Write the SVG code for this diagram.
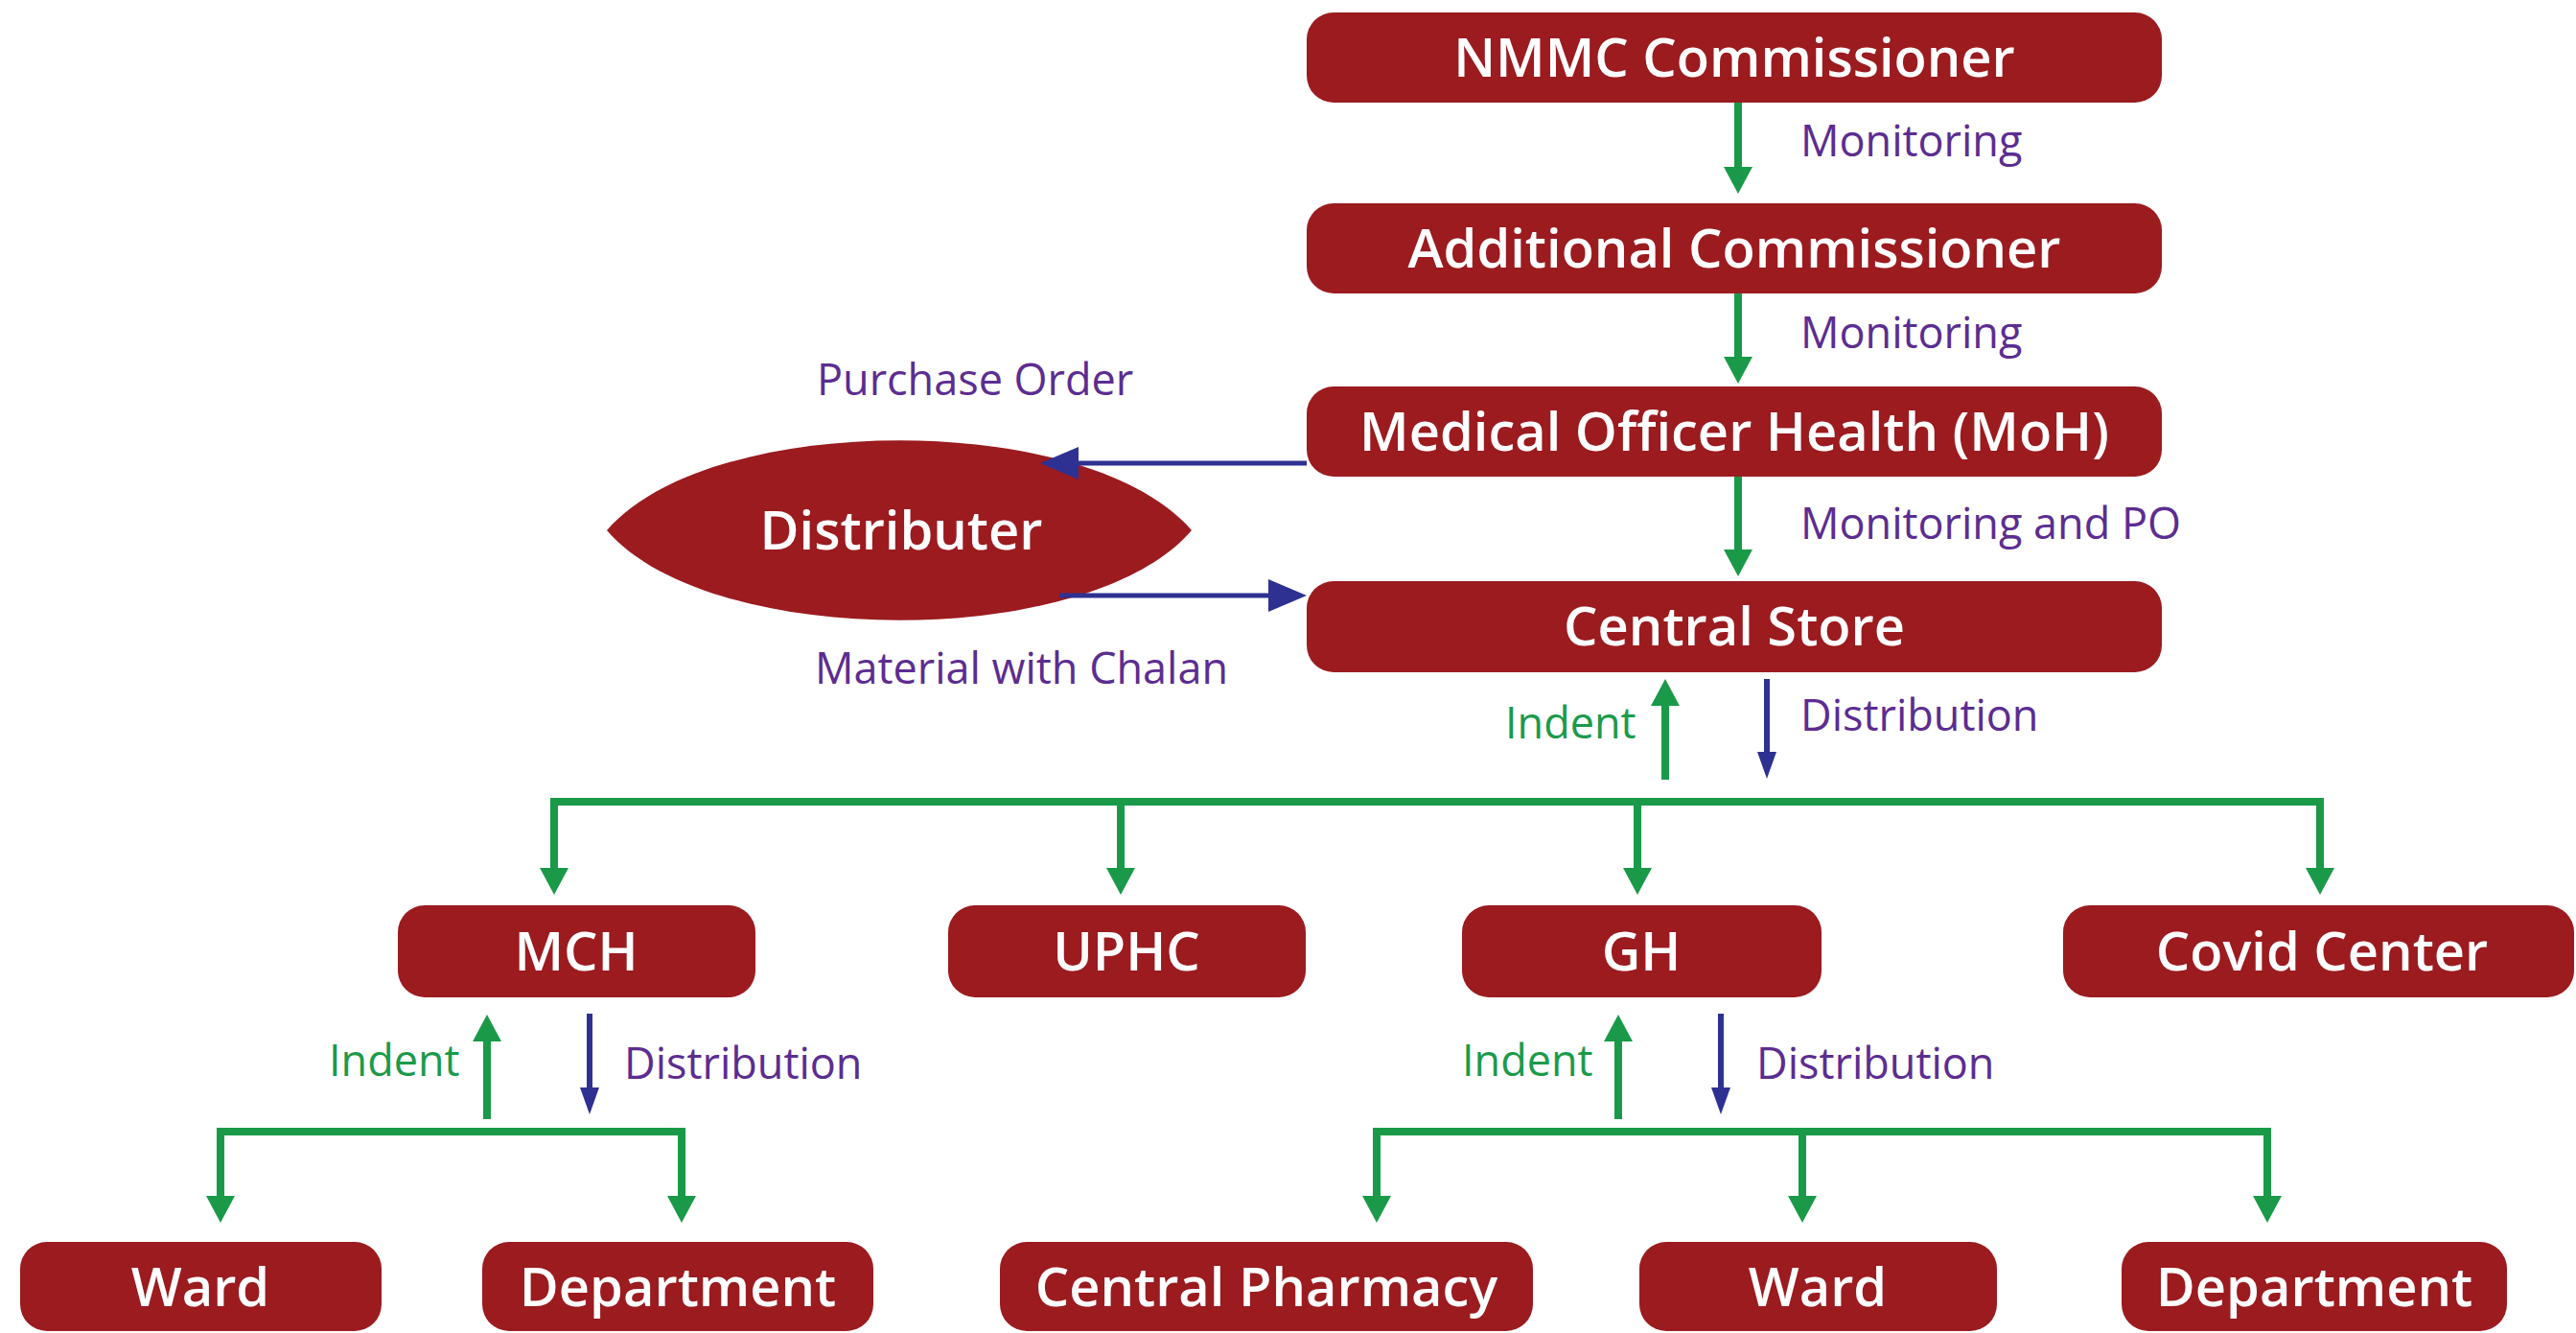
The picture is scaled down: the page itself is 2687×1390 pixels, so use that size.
<svg xmlns="http://www.w3.org/2000/svg" width="2687" height="1390" viewBox="0 0 2687 1390">
<defs>
<style>
.box{fill:#9b1b1f}
.nt{font-family:"Open Sans","Noto Sans","Liberation Sans",sans-serif;font-weight:600;font-size:56px;fill:#ffffff;text-anchor:middle}
.lp{font-family:"Open Sans","Noto Sans","Liberation Sans",sans-serif;font-size:45px;fill:#5c2d91}
.lg{font-family:"Open Sans","Noto Sans","Liberation Sans",sans-serif;font-size:45px;fill:#1b9a4b}
.g{fill:none;stroke:#1a9a48;stroke-width:8;marker-end:url(#ag)}
.gb{fill:none;stroke:#1a9a48;stroke-width:8;marker-start:url(#ag);marker-end:url(#ag)}
.b{fill:none;stroke:#2e3192;stroke-width:6;marker-end:url(#ab)}
.bh{fill:none;stroke:#2e3192;stroke-width:5;marker-end:url(#abh)}
</style>
<marker id="ag" markerUnits="userSpaceOnUse" markerWidth="28" markerHeight="30" refX="0" refY="15" orient="auto-start-reverse" overflow="visible"><path d="M0,0 L28,15 L0,30 Z" fill="#1a9a48"/></marker>
<marker id="ab" markerUnits="userSpaceOnUse" markerWidth="28" markerHeight="20" refX="0" refY="10" orient="auto" overflow="visible"><path d="M0,0 L28,10 L0,20 Z" fill="#2e3192"/></marker>
<marker id="abh" markerUnits="userSpaceOnUse" markerWidth="40" markerHeight="34" refX="0" refY="17" orient="auto" overflow="visible"><path d="M0,0 L40,17 L0,34 Z" fill="#2e3192"/></marker>
</defs>
<rect width="2687" height="1390" fill="#ffffff"/>

<g id="nmmc"><rect class="box" x="1363" y="13" width="892" height="94" rx="28"/><text class="nt" x="1809" y="80">NMMC Commissioner</text></g>
<g id="additional"><rect class="box" x="1363" y="212" width="892" height="94" rx="28"/><text class="nt" x="1809" y="279">Additional Commissioner</text></g>
<g id="moh"><rect class="box" x="1363" y="403" width="892" height="94" rx="28"/><text class="nt" x="1809" y="470">Medical Officer Health (MoH)</text></g>
<g id="central-store"><rect class="box" x="1363" y="606" width="892" height="95" rx="28"/><text class="nt" x="1809" y="673">Central Store</text></g>
<g id="distributer"><path class="box" d="M633,553 C740,428 1136,428 1243,553 C1136,678 740,678 633,553 Z"/><text class="nt" x="940" y="573">Distributer</text></g>
<g id="mch"><rect class="box" x="415" y="944" width="373" height="96" rx="28"/><text class="nt" x="601" y="1012">MCH</text></g>
<g id="uphc"><rect class="box" x="989" y="944" width="373" height="96" rx="28"/><text class="nt" x="1175" y="1012">UPHC</text></g>
<g id="gh"><rect class="box" x="1525" y="944" width="375" height="96" rx="28"/><text class="nt" x="1712" y="1012">GH</text></g>
<g id="covid"><rect class="box" x="2152" y="944" width="533" height="96" rx="28"/><text class="nt" x="2422" y="1012">Covid Center</text></g>
<g id="ward1"><rect class="box" x="21" y="1295" width="377" height="93" rx="28"/><text class="nt" x="209" y="1362">Ward</text></g>
<g id="dept1"><rect class="box" x="503" y="1295" width="408" height="93" rx="28"/><text class="nt" x="707" y="1362">Department</text></g>
<g id="pharmacy"><rect class="box" x="1043" y="1295" width="556" height="93" rx="28"/><text class="nt" x="1321" y="1362">Central Pharmacy</text></g>
<g id="ward2"><rect class="box" x="1710" y="1295" width="373" height="93" rx="28"/><text class="nt" x="1896" y="1362">Ward</text></g>
<g id="dept2"><rect class="box" x="2213" y="1295" width="402" height="93" rx="28"/><text class="nt" x="2414" y="1362">Department</text></g>

<g id="connectors">
<path class="g" d="M1813,107 V174"/>
<path class="g" d="M1813,306 V372"/>
<path class="g" d="M1813,497 V573"/>
<path class="bh" d="M1363,483 H1125"/>
<path class="bh" d="M1105,621 H1323"/>
<path class="g" d="M1737,813 V736"/>
<path class="b" d="M1843,708 V784"/>
<path class="gb" d="M578,905 V836 H2420 V905"/>
<path class="g" d="M1169,836 V905"/>
<path class="g" d="M1708,836 V905"/>
<path class="g" d="M508,1167 V1086"/>
<path class="b" d="M615,1057 V1134"/>
<path class="gb" d="M230,1247 V1180 H711 V1247"/>
<path class="g" d="M1688,1167 V1086"/>
<path class="b" d="M1795,1057 V1134"/>
<path class="gb" d="M1436,1247 V1180 H2365 V1247"/>
<path class="g" d="M1880,1180 V1247"/>
</g>

<g id="labels">
<text class="lp" x="1878" y="163">Monitoring</text>
<text class="lp" x="1878" y="363">Monitoring</text>
<text class="lp" x="1878" y="562">Monitoring and PO</text>
<text class="lp" x="852" y="412">Purchase Order</text>
<text class="lp" x="850" y="713">Material with Chalan</text>
<text class="lg" x="1570" y="770">Indent</text>
<text class="lp" x="1878" y="762">Distribution</text>
<text class="lg" x="343" y="1122">Indent</text>
<text class="lp" x="651" y="1125">Distribution</text>
<text class="lg" x="1525" y="1122">Indent</text>
<text class="lp" x="1832" y="1125">Distribution</text>
</g>
</svg>
